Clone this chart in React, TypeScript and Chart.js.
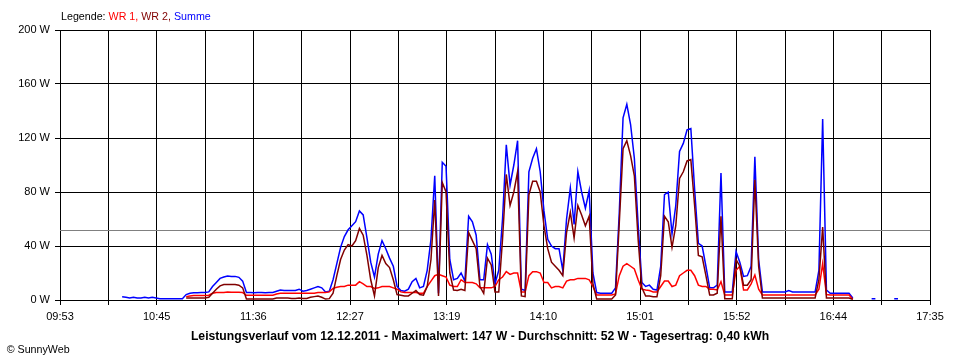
import React, { useEffect, useRef } from "react";
import { Chart, registerables } from "chart.js";

Chart.register(...registerables);

// ---- axis / time setup ----
const AXIS_START = "09:53";
const AXIS_END = "17:35";
const SAMPLE_START = "10:26";
const SAMPLE_STEP_MIN = 2;
const TIME_LABELS = ["09:53", "10:45", "11:36", "12:27", "13:19", "14:10", "15:01", "15:52", "16:44", "17:35"];
const Y_TICKS = [0, 40, 80, 120, 160, 200];
const AVERAGE_W = 52;

// ---- series (W), one value per 2-minute sample from 10:26 ----
const SUMME = [
  2.4, 2, 1.5, 2, 1.5, 1.5, 2, 1.5, 2, 1.5, 1, 1, 1, 1, 1, 1, 1,
  4, 5, 5.4, 5.4, 5.5, 5.5, 6,
  10, 13, 16, 17, 17.8, 17.5, 17.5, 16.8, 14,
  5.5, 5.5, 5.4, 5.5, 5.5, 5.4, 5.5, 5.5,
  6.5, 7.4, 7, 7, 7, 7, 8, 6.5, 7, 8, 9, 10, 9, 6, 6.5,
  15, 27, 39, 47, 52, 55, 58, 66, 63, 46, 28, 17,
  34, 44, 38, 31, 25, 10, 7, 6.5, 8, 13.6, 16, 9, 10,
  22, 45, 92, 5, 102, 99, 30, 15, 16, 20, 14,
  62, 58, 48, 15, 15, 41, 34, 12, 22,
  60, 115, 85, 100, 118, 8, 7, 95, 105, 112, 95,
  66, 45, 40, 38, 38, 22, 60, 83, 56, 95, 80, 68, 81, 20,
  5.5, 5, 5, 5, 5, 9,
  65, 135, 145, 130, 105, 56, 13, 10, 11, 8, 7.4,
  25, 78, 80, 49, 70, 110, 116, 126, 127, 82, 42, 40, 25, 9, 9, 11,
  94, 6, 6, 6, 36, 28, 17.5, 18, 25, 106, 30, 6,
  6, 6, 6, 6, 6, 6, 7, 6, 6, 6, 6, 6, 6, 6,
  22, 134, 7.4, 5, 5, 5, 5, 5, 5, 1.5,
  null, null, null, null, 1, 1, null, null, null, null, 1, 1,
];

const WR1 = [
  null, null, null, null, null, null, null, null, null, null, null, null, null, null, null, null, null,
  2.5, 3, 3.3, 3.3, 3.3, 3.3, 3.5,
  5, 5.5, 5.5, 5.5, 6, 5.7, 5.7, 5.7, 5.5,
  3.5, 3.5, 3.5, 3.5, 3.5, 3.5, 3.5, 3.5,
  4.5, 5, 5, 5, 5, 5, 5, 5, 5, 5, 5, 5.5, 5.5, 5.5, 6,
  8.6, 9.5, 10, 10, 11, 11, 11, 13.6, 12, 10, 10, 8.6,
  9, 10, 10, 10, 9, 8, 6, 5.5, 5.5, 5.5, 5.5, 5, 5,
  10, 14, 18, 19, 18, 17, 11, 10, 10, 15, 13,
  13, 13, 12, 9, 9, 9, 9, 10, 15,
  17, 21, 19, 20, 20, 6, 6, 18, 21, 21, 20,
  13, 13, 9, 10, 10, 9, 14, 15, 15, 16, 16, 16, 15, 10,
  3.7, 3.7, 3.7, 3.7, 3.7, 4.5,
  18, 25, 27, 25, 23, 15, 8, 7.4, 7, 6, 6,
  10, 14, 14, 10, 11, 18, 20, 22, 22, 18, 11, 10, 10, 8, 8, 7.4,
  13.6, 3.7, 3.7, 3.7, 22, 25, 7.4, 7.4, 12, 18.5, 8, 3.7,
  3.7, 3.7, 3.7, 3.7, 3.7, 3.7, 3.7, 3.7, 3.7, 3.7, 3.7, 3.7, 3.7, 3.7,
  8, 27, 4, 3.7, 3.7, 3.7, 3.7, 3.7, 3.7, 0.5,
  null, null, null, null, null, null, null, null, null, null, null, null,
];

const WR2 = [
  null, null, null, null, null, null, null, null, null, null, null, null, null, null, null, null, null,
  1.5, 1.5, 1.5, 1.5, 1.5, 1.5, 2,
  5, 8, 10.5, 11.5, 11.5, 11.5, 11.5, 11, 9,
  0.7, 0.7, 0.7, 0.7, 0.7, 0.7, 0.7, 0.7,
  1.5, 1.5, 1.5, 1.5, 1.2, 1.2, 1.5, 1.2, 1.2, 2, 2.5, 3, 2, 0.7, 1,
  5, 18, 30, 37, 41, 40, 44, 53, 48, 33, 15, 3,
  24, 33, 27, 24, 15, 4, 3.5, 3, 3, 5, 7, 4, 3.5,
  10, 30, 74, 3, 87, 80, 20, 7.4, 7, 8, 7,
  50, 44, 38, 10, 5, 31, 26, 6, 6,
  45, 93, 70, 80, 95, 3, 2.5, 78, 88, 88, 80,
  55, 38, 28, 25, 22, 18, 50, 65, 46, 70, 63, 55, 62, 12,
  0.7, 0.7, 0.7, 0.7, 0.7, 3.7,
  57, 112, 118, 107, 92, 45, 9, 3, 3, 2.5, 2.5,
  18, 62, 58, 39, 55, 90, 95, 103, 104, 70, 33, 32, 18, 3.7, 3.7, 5,
  62, 1, 1, 1, 30, 25, 11, 11, 15, 89, 25, 1.5,
  1.5, 1.5, 1.5, 1.5, 1.5, 1.5, 1.5, 1.5, 1.5, 1.5, 1.5, 1.5, 1.5, 1.5,
  15, 54, 1.5, 1.5, 1.5, 1.5, 1.5, 1.5, 1.5, 0.5,
  null, null, null, null, null, null, null, null, null, null, null, null,
];

const FONT = "'Liberation Sans', Arial, sans-serif";

const toMin = (t: string) => {
  const [h, m] = t.split(":").map(Number);
  return h * 60 + m;
};

const SPAN = toMin(AXIS_END) - toMin(AXIS_START);
const OFFSET = toMin(SAMPLE_START) - toMin(AXIS_START);

const toPoints = (arr: (number | null)[]) =>
  arr.map((v, i) => ({ x: OFFSET + i * SAMPLE_STEP_MIN, y: v }));

const avgLinePlugin = {
  id: "avgLine",
  beforeDatasetsDraw(chart: any) {
    const { ctx, chartArea, scales } = chart;
    const y = Math.round(scales.y.getPixelForValue(AVERAGE_W)) + 0.5;
    ctx.save();
    ctx.strokeStyle = "#808080";
    ctx.lineWidth = 1;
    ctx.beginPath();
    ctx.moveTo(chartArea.left, y);
    ctx.lineTo(chartArea.right, y);
    ctx.stroke();
    ctx.restore();
  },
};

export default function App() {
  const ref = useRef<HTMLCanvasElement>(null);

  useEffect(() => {
    if (!ref.current) return;
    const gridSteps = (TIME_LABELS.length - 1) * 2;
    const chart = new Chart(ref.current, {
      type: "line",
      data: {
        datasets: [
          { label: "WR 2", data: toPoints(WR2) as any, borderColor: "#800000", order: 0 },
          { label: "WR 1", data: toPoints(WR1) as any, borderColor: "#ff0000", order: 1 },
          { label: "Summe", data: toPoints(SUMME) as any, borderColor: "#0000ff", order: 2 },
        ],
      },
      options: {
        responsive: false,
        animation: false,
        devicePixelRatio: 1,
        layout: { padding: { top: 30, right: 30, left: 0, bottom: 0 } },
        plugins: { legend: { display: false }, tooltip: { enabled: false }, title: { display: false } },
        elements: {
          point: { radius: 0 },
          line: { borderWidth: 1.5, tension: 0, fill: false },
        },
        spanGaps: false,
        scales: {
          x: {
            type: "linear",
            min: 0,
            max: SPAN,
            afterBuildTicks: (s: any) => {
              s.ticks = Array.from({ length: gridSteps + 1 }, (_, k) => ({ value: (k * SPAN) / gridSteps }));
            },
            afterFit: (s: any) => {
              s.height = 60;
            },
            ticks: {
              autoSkip: false,
              maxRotation: 0,
              padding: 5,
              color: "#000",
              font: { family: FONT, size: 11 },
              callback: (_v: any, i: number) => (i % 2 === 0 ? TIME_LABELS[i / 2] : ""),
            },
            grid: { color: "#000", lineWidth: 1, tickLength: 5 },
            border: { color: "#000", width: 1 },
          },
          y: {
            min: 0,
            max: 200,
            afterBuildTicks: (s: any) => {
              s.ticks = Y_TICKS.map((v) => ({ value: v }));
            },
            afterFit: (s: any) => {
              s.width = 60;
            },
            ticks: {
              padding: 5,
              color: "#000",
              font: { family: FONT, size: 11 },
              callback: (v: any) => `${v} W`,
            },
            grid: { color: "#000", lineWidth: 1, tickLength: 5 },
            border: { color: "#000", width: 1 },
          },
        },
      },
      plugins: [avgLinePlugin],
    } as any);
    return () => chart.destroy();
  }, []);

  return (
    <div
      style={{
        position: "fixed",
        left: 0,
        top: 0,
        width: 960,
        height: 360,
        background: "#fff",
        fontFamily: FONT,
        color: "#000",
      }}
    >
      <canvas ref={ref} width={960} height={360} style={{ position: "absolute", left: 0, top: 0, width: 960, height: 360 }} />
      <div style={{ position: "absolute", left: 61, top: 11.4, fontSize: 10.7, lineHeight: 1, whiteSpace: "nowrap" }}>
        Legende: <span style={{ color: "#ff0000" }}>WR 1,</span> <span style={{ color: "#800000" }}>WR 2,</span>{" "}
        <span style={{ color: "#0000ff" }}>Summe</span>
      </div>
      <div
        style={{
          position: "absolute",
          left: 0,
          width: 960,
          top: 329.7,
          textAlign: "center",
          fontWeight: "bold",
          fontSize: 12.2,
          lineHeight: 1,
          whiteSpace: "nowrap",
        }}
      >
        Leistungsverlauf vom 12.12.2011 - Maximalwert: 147 W - Durchschnitt: 52 W - Tagesertrag: 0,40 kWh
      </div>
      <div style={{ position: "absolute", left: 6.7, top: 343.6, fontSize: 10.7, lineHeight: 1, whiteSpace: "nowrap" }}>
        © SunnyWeb
      </div>
    </div>
  );
}
